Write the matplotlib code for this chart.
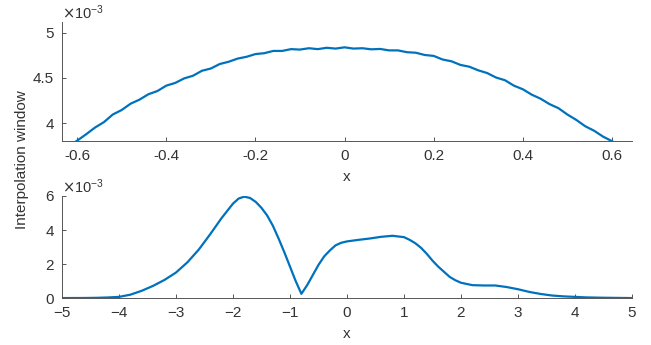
import matplotlib
matplotlib.use('Agg')
import matplotlib.pyplot as plt

# valores em unidades de 1e-3
x_top = [-0.62, -0.60, -0.58, -0.56, -0.54, -0.52, -0.50, -0.48, -0.46, -0.44,
         -0.42, -0.40, -0.38, -0.36, -0.34, -0.32, -0.30, -0.28, -0.26, -0.24,
         -0.22, -0.20, -0.18, -0.16, -0.14, -0.12, -0.10, -0.08, -0.06, -0.04,
         -0.02, 0.00, 0.02, 0.04, 0.06, 0.08, 0.10, 0.12, 0.14, 0.16,
         0.18, 0.20, 0.22, 0.24, 0.26, 0.28, 0.30, 0.32, 0.34, 0.36,
         0.38, 0.40, 0.42, 0.44, 0.46, 0.48, 0.50, 0.52, 0.54, 0.56,
         0.58, 0.60, 0.62]
y_top = [3.74, 3.805, 3.875, 3.95, 4.01, 4.095, 4.145, 4.215, 4.26, 4.32,
         4.355, 4.415, 4.445, 4.495, 4.525, 4.58, 4.605, 4.655, 4.68, 4.715,
         4.735, 4.765, 4.775, 4.80, 4.80, 4.82, 4.815, 4.83, 4.82, 4.835,
         4.826, 4.84, 4.826, 4.83, 4.818, 4.822, 4.806, 4.806, 4.786, 4.78,
         4.755, 4.745, 4.705, 4.685, 4.645, 4.625, 4.585, 4.555, 4.505, 4.475,
         4.415, 4.375, 4.315, 4.27, 4.21, 4.165, 4.095, 4.035, 3.965, 3.915,
         3.85, 3.80, 3.74]

x_bot = [-5.0, -4.6, -4.4, -4.2, -4.0, -3.8, -3.6, -3.4, -3.2, -3.0,
         -2.8, -2.6, -2.4, -2.2, -2.0, -1.9, -1.8, -1.7, -1.6, -1.5,
         -1.4, -1.3, -1.2, -1.1, -1.0, -0.9, -0.8, -0.7, -0.6, -0.5,
         -0.4, -0.3, -0.2, -0.1, 0.0, 0.2, 0.4, 0.6, 0.8, 1.0,
         1.1, 1.2, 1.3, 1.4, 1.5, 1.6, 1.7, 1.8, 1.9, 2.0,
         2.2, 2.4, 2.6, 2.8, 3.0, 3.2, 3.4, 3.6, 3.8, 4.0,
         4.2, 4.5, 5.0]
y_bot = [0.0, 0.005, 0.015, 0.035, 0.07, 0.2, 0.43, 0.72, 1.07, 1.5,
         2.1, 2.85, 3.75, 4.7, 5.55, 5.85, 5.96, 5.88, 5.65, 5.3,
         4.85, 4.25, 3.5, 2.7, 1.85, 1.0, 0.25, 0.75, 1.35, 1.95,
         2.45, 2.8, 3.1, 3.25, 3.33, 3.42, 3.5, 3.6, 3.66, 3.58,
         3.42, 3.22, 2.95, 2.6, 2.2, 1.85, 1.55, 1.25, 1.05, 0.9,
         0.76, 0.74, 0.74, 0.65, 0.52, 0.36, 0.24, 0.15, 0.1, 0.07,
         0.04, 0.02, 0.0]

xticks_top = [-0.6, -0.4, -0.2, 0, 0.2, 0.4, 0.6]
xlabels_top = ['-0.6', '-0.4', '-0.2', '0', '0.2', '0.4', '0.6']
yticks_top = [4, 4.5, 5]
ylabels_top = ['4', '4.5', '5']
xticks_bot = [-5, -4, -3, -2, -1, 0, 1, 2, 3, 4, 5]
yticks_bot = [0, 2, 4, 6]

plt.rcParams['font.family'] = ['Liberation Sans', 'DejaVu Sans']
plt.rcParams['font.size'] = 11

LINHA = '#0072BD'
EIXO = '#555555'
TEXTO = '#333333'

fig = plt.figure(figsize=(6.51, 3.45), dpi=100)
ax1 = fig.add_axes([0.0952, 0.591, 0.8756, 0.345])
ax2 = fig.add_axes([0.0952, 0.136, 0.8756, 0.296])


def estilo(ax):
    for lado in ['top', 'right']:
        ax.spines[lado].set_visible(False)
    for lado in ['left', 'bottom']:
        ax.spines[lado].set_color(EIXO)
        ax.spines[lado].set_linewidth(0.7)
    ax.tick_params(direction='in', length=3, width=0.7, color=EIXO,
                   labelcolor=TEXTO, labelsize=11, pad=6)
    ax.set_xlabel('x', color=TEXTO, fontsize=11, labelpad=5)
    ax.text(0, 1.0, r'$\times\mathregular{10^{-3}}$', transform=ax.transAxes,
            ha='left', va='bottom', color=TEXTO, fontsize=10.5)


ax1.plot(x_top, y_top, color=LINHA, lw=1.6)
ax1.set_xlim(-0.634, 0.645)
ax1.set_ylim(3.8, 5.12)
ax1.set_xticks(xticks_top)
ax1.set_xticklabels(xlabels_top)
ax1.set_yticks(yticks_top)
ax1.set_yticklabels(ylabels_top)
estilo(ax1)

ax2.plot(x_bot, y_bot, color=LINHA, lw=1.6)
ax2.set_xlim(-5, 5)
ax2.set_ylim(0, 6)
ax2.set_xticks(xticks_bot)
ax2.set_yticks(yticks_bot)
estilo(ax2)

fig.text(0.034, 0.538, 'Interpolation window', rotation=90, ha='center',
         va='center', color=TEXTO, fontsize=11)

fig.savefig('out.png', dpi=100)
